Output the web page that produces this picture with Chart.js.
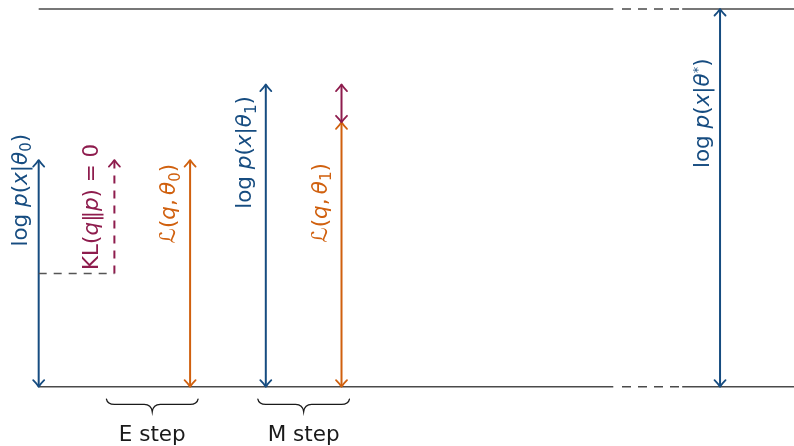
<!DOCTYPE html>
<html>
<head>
<meta charset="utf-8">
<style>
  html, body { margin: 0; padding: 0; background: #ffffff; }
  #wrap { width: 794px; height: 446px; }
</style>
<script src="https://cdn.jsdelivr.net/npm/chart.js@4/dist/chart.umd.min.js"></script>
</head>
<body>
<div id="wrap"><canvas id="em" width="794" height="446"></canvas></div>
<script>
// One EM iteration: log-likelihood and lower bound before/after each step,
// next to the optimum log p(x|θ*).
const columns      = [0, 1, 2, 3, 4, 9];
const lowerValues  = [0, 3, 0, 0, 0, 0];
const upperValues  = [6, 6, 6, 8, 7, 10];
const seriesKinds  = ['logp', 'kl', 'bound', 'logp', 'bound', 'logp'];
const seriesLabels = [
  'log $p$($x$|$θ$_0)',
  'KL($q$‖$p$) = 0',
  'ℒ($q$,\u2009$θ$_0)',
  'log $p$($x$|$θ$_1)',
  'ℒ($q$,\u2009$θ$_1)',
  'log $p$($x$|$θ$^*)'
];
// Remaining gap after the M step: log p(x|θ1) − ℒ(q,θ1)
const gapColumn = 4;
const gapLower  = 7;
const gapUpper  = 8;
// Old level of the bound before the E step (dashed guide)
const oldBoundLevel = 3;
// Horizontal reference levels
const baseLevel    = 0;
const optimumLevel = 10;
// Step annotations
const stepNames   = ['E step', 'M step'];
const stepCenters = [1.5, 3.5];

// ---- layout & styles ----
const X_MIN = -0.511, X_MAX = 9.977;
const Y_MIN = -1.570, Y_MAX = 10.238;
const BREAK = { solidEnd: 7.59, dashStart: 7.705, dashEnd: 8.46, solidStart: 8.5 };
const labelLayout = [
  { dx: -12, start: 3.71 },
  { dx: -16, start: 3.09 },
  { dx: -15, start: 3.79 },
  { dx: -15, start: 4.71 },
  { dx: -15, start: 3.81 },
  { dx: -11, start: 5.79 }
];
const braceHalfWidth = 0.605;
const COLORS = { logp: '#164c80', bound: '#d0600e', kl: '#8e1c4d', axis: '#4a4a4a', guide: '#555555', text: '#1a1a1a' };
const FONT = '"DejaVu Sans", sans-serif';
const FONT_SIZE = 21.5;

function seg(x0, y0, x1, y1) { return [{ x: x0, y: y0 }, { x: x1, y: y1 }]; }

const datasets = [];
function addLine(points, color, opts) {
  datasets.push(Object.assign({
    data: points, showLine: true, borderColor: color, backgroundColor: color,
    borderWidth: 2, pointRadius: 0, pointHoverRadius: 0, tension: 0, fill: false,
    borderCapStyle: 'butt'
  }, opts || {}));
}

// reference levels with an axis break
[baseLevel, optimumLevel].forEach(level => {
  addLine(seg(0, level, BREAK.solidEnd, level), COLORS.axis, { borderWidth: 1.5 });
  addLine(seg(BREAK.dashStart, level, BREAK.dashEnd, level), COLORS.axis, { borderWidth: 1.5, borderDash: [9, 7] });
  addLine(seg(BREAK.solidStart, level, X_MAX, level), COLORS.axis, { borderWidth: 1.5 });
});

// dashed guide at the old bound level
addLine(seg(columns[0], oldBoundLevel, columns[1], oldBoundLevel), COLORS.guide, { borderWidth: 1.5, borderDash: [8, 7] });

// vertical arrows for each quantity
columns.forEach((c, i) => {
  const kind = seriesKinds[i];
  const dashed = kind === 'kl';
  addLine(seg(c, lowerValues[i], c, upperValues[i]), COLORS[kind], {
    borderDash: dashed ? [8, 7] : [],
    arrowStart: !dashed, arrowEnd: true
  });
});
// KL gap after the M step
addLine(seg(gapColumn, gapLower, gapColumn, gapUpper), COLORS.kl, { arrowStart: true, arrowEnd: true });

// ---- drawing helpers ----
function parseRich(s) {
  const out = []; let it = false; let buf = '';
  const flush = () => { if (buf) out.push({ t: buf, it, kind: 'n' }); buf = ''; };
  for (let i = 0; i < s.length; i++) {
    const ch = s[i];
    if (ch === '$') { flush(); it = !it; continue; }
    if (ch === '_' || ch === '^') {
      flush();
      out.push({ t: s[i + 1], it: false, kind: ch === '_' ? 'sub' : 'sup' });
      i++; continue;
    }
    buf += ch;
  }
  flush();
  return out;
}
function segFont(sg, size) {
  const sz = sg.kind === 'n' ? size : (sg.kind === 'sub' ? size * 0.7 : size * 0.6);
  return (sg.it ? 'italic ' : '') + sz + 'px ' + FONT;
}
function drawRich(ctx, text, x, y, size, color) {
  const parts = parseRich(text);
  ctx.fillStyle = color;
  ctx.textBaseline = 'alphabetic';
  ctx.textAlign = 'left';
  let cx = x;
  parts.forEach(p => {
    ctx.font = segFont(p, size);
    const dy = p.kind === 'sub' ? size * 0.22 : (p.kind === 'sup' ? -size * 0.34 : 0);
    ctx.fillText(p.t, cx, y + dy);
    cx += ctx.measureText(p.t).width;
  });
}
function chevron(ctx, x, y, dir, color) {
  // dir = -1 points up, +1 points down
  const w = 5.5, h = 6.5;
  ctx.save();
  ctx.strokeStyle = color; ctx.lineWidth = 1.8; ctx.lineCap = 'round'; ctx.lineJoin = 'round';
  ctx.setLineDash([]);
  ctx.beginPath();
  ctx.moveTo(x - w, y - dir * h);
  ctx.quadraticCurveTo(x - w * 0.35, y - dir * h * 0.45, x, y);
  ctx.quadraticCurveTo(x + w * 0.35, y - dir * h * 0.45, x + w, y - dir * h);
  ctx.stroke();
  ctx.restore();
}
function brace(ctx, x0, x1, yTop, yTip, color) {
  const xc = (x0 + x1) / 2;
  const yMid = yTop + (yTip - yTop) * 0.42;
  const r = 8;
  ctx.save();
  ctx.strokeStyle = color; ctx.lineWidth = 1.3; ctx.lineCap = 'round';
  ctx.beginPath();
  ctx.moveTo(x0, yTop);
  ctx.quadraticCurveTo(x0 + 1, yMid, x0 + r, yMid);
  ctx.lineTo(xc - r, yMid);
  ctx.quadraticCurveTo(xc - 1, yMid, xc, yTip);
  ctx.quadraticCurveTo(xc + 1, yMid, xc + r, yMid);
  ctx.lineTo(x1 - r, yMid);
  ctx.quadraticCurveTo(x1 - 1, yMid, x1, yTop);
  ctx.stroke();
  ctx.restore();
}

const annotations = {
  id: 'emAnnotations',
  afterDatasetsDraw(chart) {
    const ctx = chart.ctx;
    const xs = chart.scales.x, ys = chart.scales.y;
    // arrow heads at the ends of the vertical segments
    chart.data.datasets.forEach(ds => {
      if (!ds.arrowStart && !ds.arrowEnd) return;
      const a = ds.data[0], b = ds.data[1];
      const ax = xs.getPixelForValue(a.x), ay = ys.getPixelForValue(a.y);
      const bx = xs.getPixelForValue(b.x), by = ys.getPixelForValue(b.y);
      if (ds.arrowStart) chevron(ctx, ax, ay, ay > by ? 1 : -1, ds.borderColor);
      if (ds.arrowEnd) chevron(ctx, bx, by, by < ay ? -1 : 1, ds.borderColor);
    });
    // rotated labels beside each arrow
    seriesLabels.forEach((txt, i) => {
      const lay = labelLayout[i];
      const px = xs.getPixelForValue(columns[i]) + lay.dx;
      const py = ys.getPixelForValue(lay.start);
      ctx.save();
      ctx.translate(px, py);
      ctx.rotate(-Math.PI / 2);
      drawRich(ctx, txt, 0, 0, FONT_SIZE, COLORS[seriesKinds[i]]);
      ctx.restore();
    });
    // step braces and names
    stepNames.forEach((name, i) => {
      const x0 = xs.getPixelForValue(stepCenters[i] - braceHalfWidth);
      const x1 = xs.getPixelForValue(stepCenters[i] + braceHalfWidth);
      brace(ctx, x0, x1, ys.getPixelForValue(-0.33), ys.getPixelForValue(-0.66), COLORS.text);
      ctx.save();
      ctx.fillStyle = COLORS.text;
      ctx.font = FONT_SIZE + 'px ' + FONT;
      ctx.textAlign = 'center';
      ctx.textBaseline = 'alphabetic';
      ctx.fillText(name, xs.getPixelForValue(stepCenters[i]), ys.getPixelForValue(-1.44));
      ctx.restore();
    });
  }
};

new Chart(document.getElementById('em'), {
  type: 'scatter',
  data: { datasets },
  options: {
    responsive: false,
    devicePixelRatio: 1,
    animation: false,
    events: [],
    layout: { padding: 0 },
    scales: {
      x: { type: 'linear', min: X_MIN, max: X_MAX, display: false },
      y: { type: 'linear', min: Y_MIN, max: Y_MAX, display: false }
    },
    plugins: { legend: { display: false }, tooltip: { enabled: false } }
  },
  plugins: [annotations]
});
</script>
</body>
</html>
